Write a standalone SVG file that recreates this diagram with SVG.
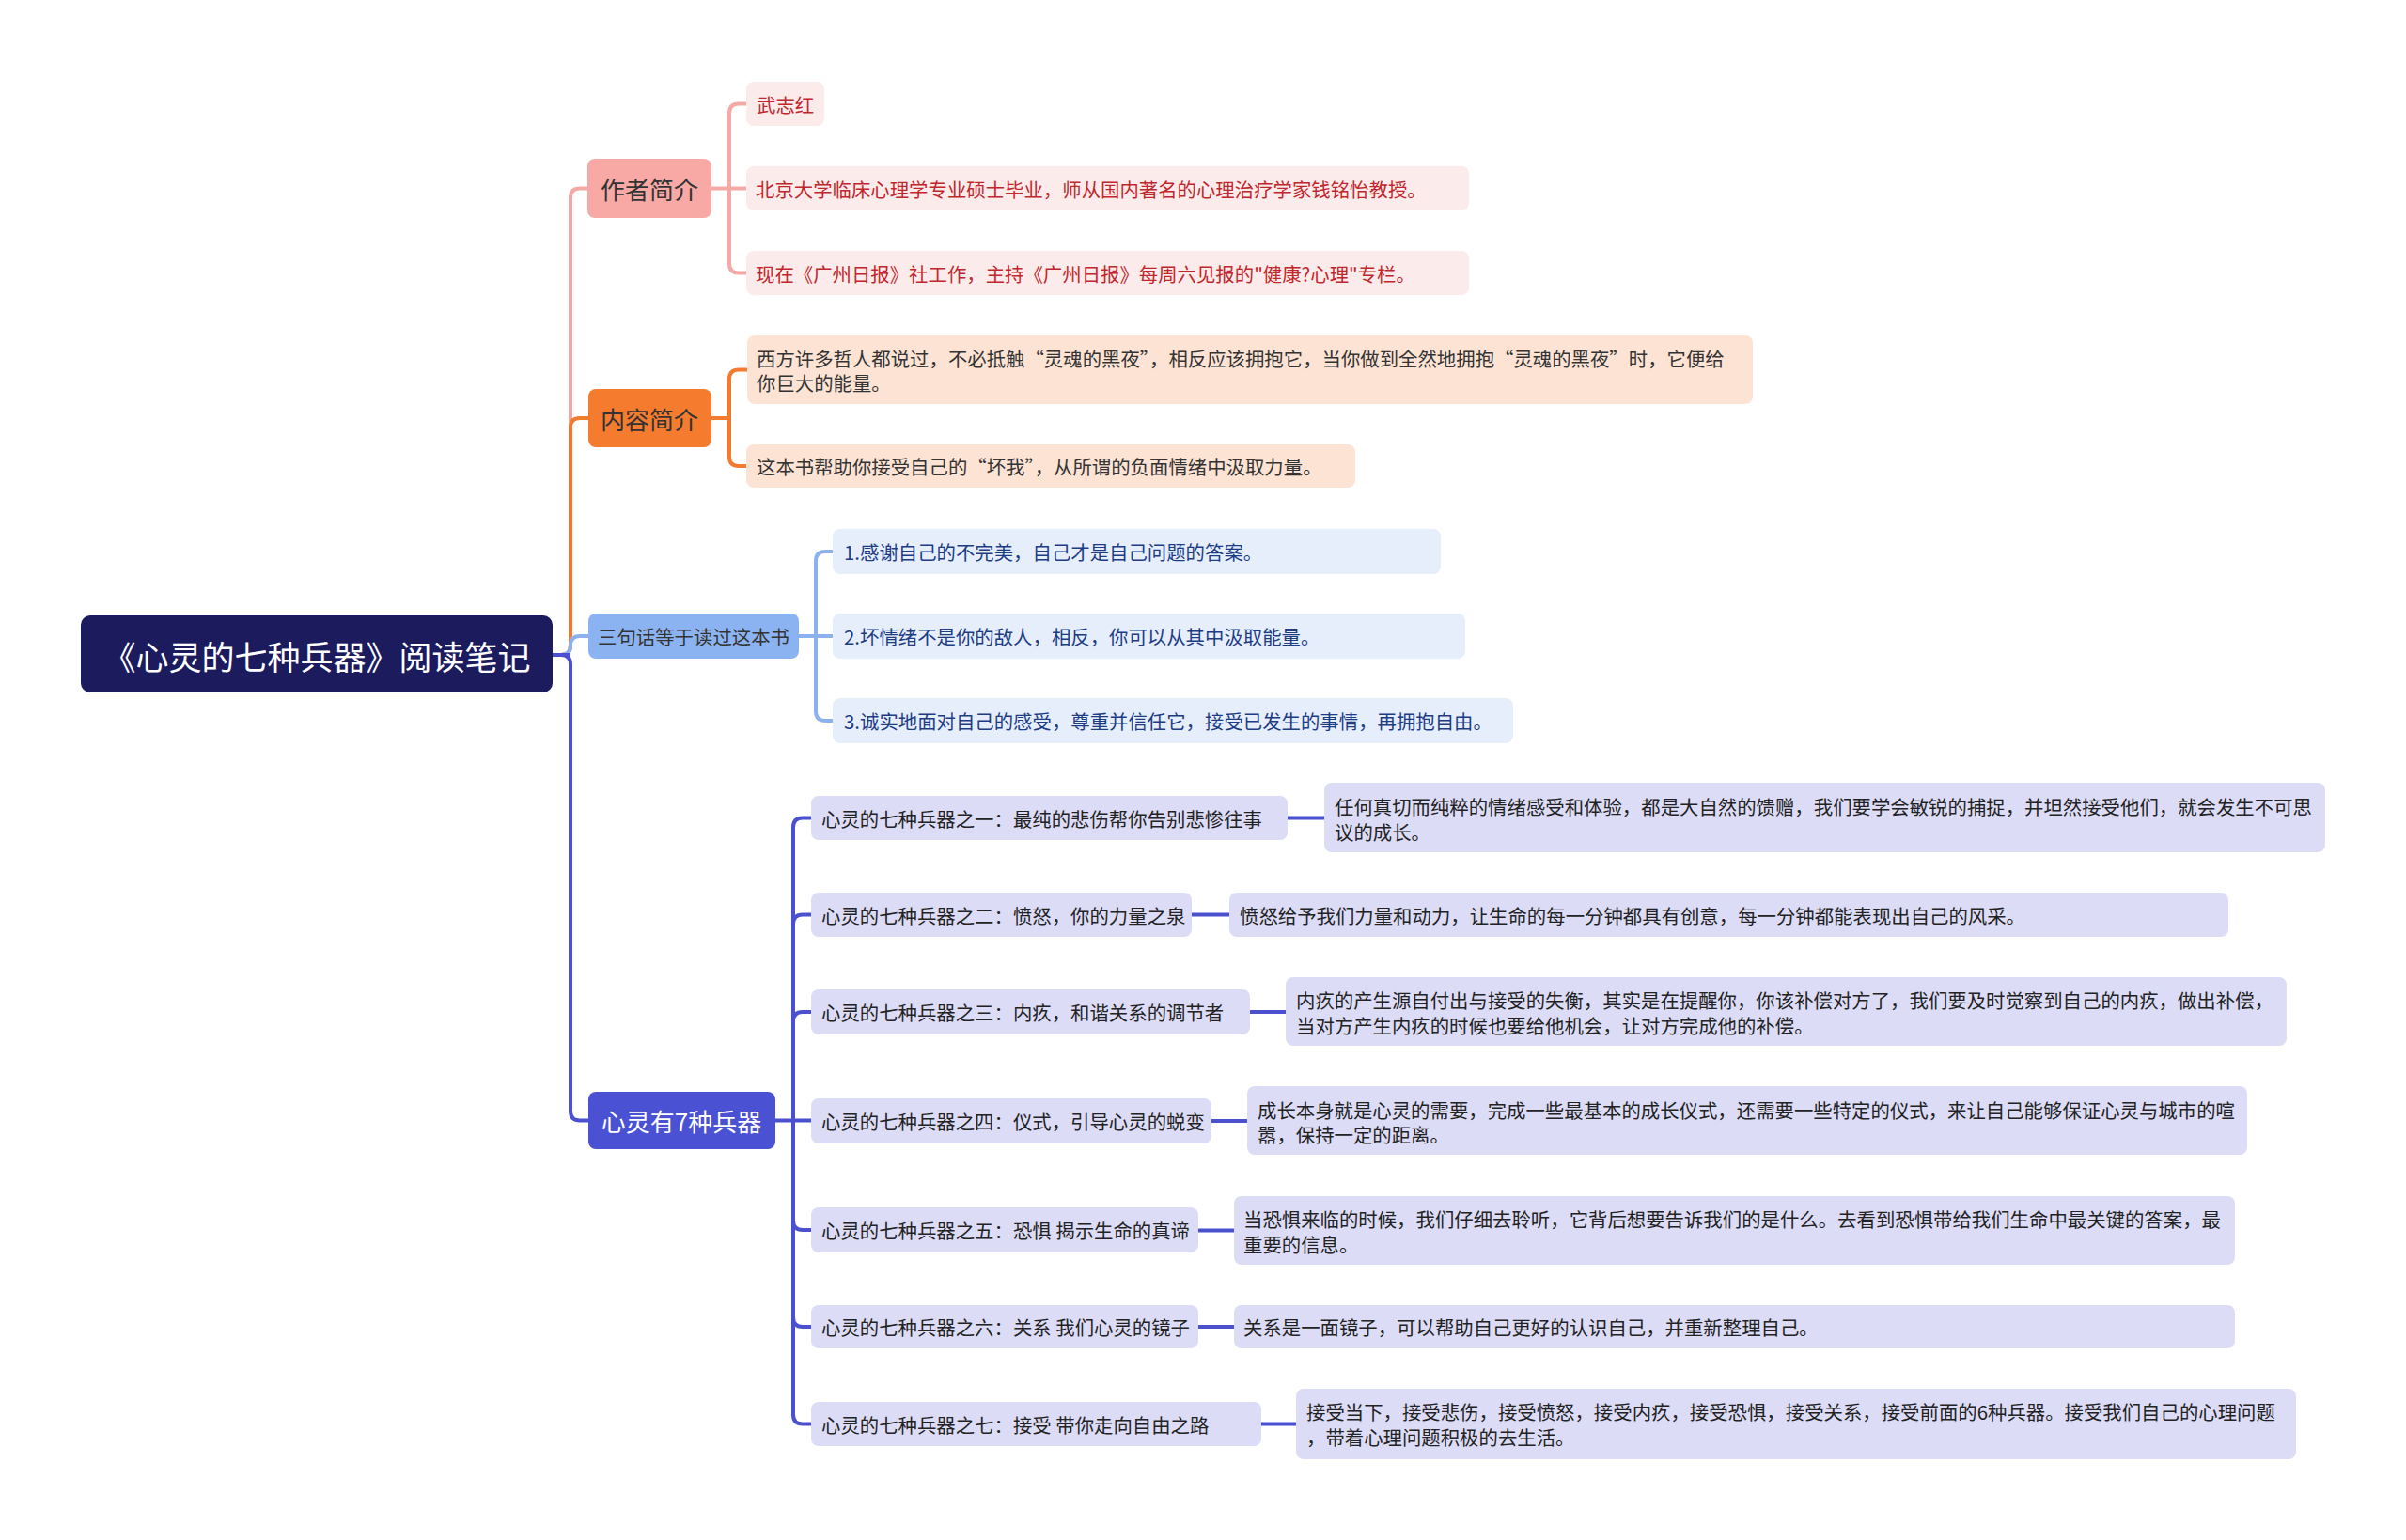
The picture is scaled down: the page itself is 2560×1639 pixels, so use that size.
<svg xmlns="http://www.w3.org/2000/svg" width="2560" height="1639" viewBox="0 0 2560 1639">
<style>
text{font-family:"Noto Sans CJK SC","Noto Sans",sans-serif;dominant-baseline:central}
.t20{font-size:20.4px}
.t26{font-size:26px;text-anchor:middle}
.c{text-anchor:middle}
.ln{fill:none;stroke-width:4;stroke-linecap:butt}
.pink{stroke:#f4a9a7}.orange{stroke:#f27b30}.lblue{stroke:#8bb2ef}.blue{stroke:#4b50cf}
.fa{fill:#fcebeb}.fc{fill:#fde3d4}.fs{fill:#e6eefc}.fw{fill:#dcdcf7}
.ta{fill:#c0272d}.tc{fill:#333}.ts{fill:#1c3c84}.tw{fill:#222}
</style>
<rect width="2560" height="1639" fill="#fff"/>
<g id="connectors">
<path class="ln pink" d="M588,697 H597 Q607,697 607,687 V210.5 Q607,200.5 617,200.5 H626"/>
<path class="ln orange" d="M588,697 H597 Q607,697 607,687 V455 Q607,445 617,445 H626"/>
<path class="ln lblue" d="M588,697 H597 Q607,697 607,687 Q607,677 617,677 H626"/>
<path class="ln blue" d="M588,697 H597 Q607,697 607,707 V1182.5 Q607,1192.5 617,1192.5 H626"/>
<path class="ln blue" d="M588,697 H607" stroke-width="5"/>
<path class="ln pink" d="M757,200.5 H794"/>
<path class="ln pink" d="M776,200.5 V120.5 Q776,110.5 786,110.5 H794"/>
<path class="ln pink" d="M776,200.5 V280.5 Q776,290.5 786,290.5 H794"/>
<path class="ln orange" d="M757,445 H776"/>
<path class="ln orange" d="M776,445 V403.5 Q776,393.5 786,393.5 H795"/>
<path class="ln orange" d="M776,445 V486 Q776,496 786,496 H794"/>
<path class="ln lblue" d="M850,677 H886"/>
<path class="ln lblue" d="M868,677 V597 Q868,587 878,587 H886"/>
<path class="ln lblue" d="M868,677 V757 Q868,767 878,767 H886"/>
<path class="ln blue" d="M825,1192.5 H863"/>
<path class="ln blue" d="M844,1192.5 V880.5 Q844,870.5 854,870.5 H863"/>
<path class="ln blue" d="M844,1192.5 V983.5 Q844,973.5 854,973.5 H863"/>
<path class="ln blue" d="M844,1192.5 V1087 Q844,1077 854,1077 H863"/>
<path class="ln blue" d="M844,1192.5 V1299 Q844,1309 854,1309 H863"/>
<path class="ln blue" d="M844,1192.5 V1402 Q844,1412 854,1412 H863"/>
<path class="ln blue" d="M844,1192.5 V1505.5 Q844,1515.5 854,1515.5 H863"/>
<path class="ln blue" stroke-width="5" d="M1370,870.5 H1409"/>
<path class="ln blue" stroke-width="5" d="M1268,973.5 H1308"/>
<path class="ln blue" stroke-width="5" d="M1330,1077 H1368"/>
<path class="ln blue" stroke-width="5" d="M1289,1193 H1327"/>
<path class="ln blue" stroke-width="5" d="M1275,1309.5 H1313"/>
<path class="ln blue" stroke-width="5" d="M1275,1412 H1313"/>
<path class="ln blue" stroke-width="5" d="M1342,1515.5 H1379"/>
</g>
<g id="root">
<rect x="86" y="655" width="502" height="82" rx="10" fill="#1b1b5d"/>
<text x="337" y="697" class="c" font-size="35" fill="#fff">《心灵的七种兵器》阅读笔记</text>
</g>
<g id="n-author">
<rect x="625" y="169" width="132" height="63" rx="8" fill="#f8a9a5"/>
<text x="691" y="200.5" class="t26" fill="#333">作者简介</text>
</g>
<g id="n-author-1">
<rect x="794" y="87" width="83" height="47" rx="8" class="fa"/>
<text x="805" y="110.5" class="t20 ta">武志红</text>
</g>
<g id="n-author-2">
<rect x="794" y="177" width="769" height="47" rx="8" class="fa"/>
<text x="804" y="200.5" class="t20 ta">北京大学临床心理学专业硕士毕业，师从国内著名的心理治疗学家钱铭怡教授。</text>
</g>
<g id="n-author-3">
<rect x="794" y="267" width="769" height="47" rx="8" class="fa"/>
<text x="804" y="290.5" class="t20 ta">现在《广州日报》社工作，主持《广州日报》每周六见报的"健康?心理"专栏。</text>
</g>
<g id="n-content">
<rect x="626" y="414" width="131" height="62" rx="8" fill="#f57b2f"/>
<text x="691" y="445" class="t26" fill="#333">内容简介</text>
</g>
<g id="n-content-1">
<rect x="795" y="357" width="1070" height="73" rx="8" class="fc"/>
<text x="805" y="381" class="t20 tc">西方许多哲人都说过，不必抵触“灵魂的黑夜”，相反应该拥抱它，当你做到全然地拥抱“灵魂的黑夜”时，它便给</text>
<text x="805" y="407" class="t20 tc">你巨大的能量。</text>
</g>
<g id="n-content-2">
<rect x="794" y="473" width="648" height="46" rx="8" class="fc"/>
<text x="805" y="496" class="t20 tc">这本书帮助你接受自己的“坏我”，从所谓的负面情绪中汲取力量。</text>
</g>
<g id="n-sentences">
<rect x="626" y="653" width="224" height="48" rx="8" fill="#8cb3f1"/>
<text x="738" y="677" class="t20 c" fill="#333">三句话等于读过这本书</text>
</g>
<g id="n-sentence-1">
<rect x="886" y="563" width="647" height="48" rx="8" class="fs"/>
<text x="898" y="587" class="t20 ts">1.感谢自己的不完美，自己才是自己问题的答案。</text>
</g>
<g id="n-sentence-2">
<rect x="886" y="653" width="673" height="48" rx="8" class="fs"/>
<text x="898" y="677" class="t20 ts">2.坏情绪不是你的敌人，相反，你可以从其中汲取能量。</text>
</g>
<g id="n-sentence-3">
<rect x="886" y="743" width="724" height="48" rx="8" class="fs"/>
<text x="898" y="767" class="t20 ts">3.诚实地面对自己的感受，尊重并信任它，接受已发生的事情，再拥抱自由。</text>
</g>
<g id="n-weapons">
<rect x="626" y="1162" width="199" height="61" rx="8" fill="#4b51d3"/>
<text x="725" y="1192.5" class="t26" fill="#fff">心灵有7种兵器</text>
</g>
<g id="n-w1">
<rect x="863" y="847" width="507" height="47" rx="8" class="fw"/>
<text x="874" y="870.5" class="t20 tw">心灵的七种兵器之一：最纯的悲伤帮你告别悲惨往事</text>
</g>
<g id="n-w1-d">
<rect x="1409" y="833" width="1065" height="74" rx="8" class="fw"/>
<text x="1420" y="858" class="t20 tw">任何真切而纯粹的情绪感受和体验，都是大自然的馈赠，我们要学会敏锐的捕捉，并坦然接受他们，就会发生不可思</text>
<text x="1420" y="885" class="t20 tw">议的成长。</text>
</g>
<g id="n-w2">
<rect x="863" y="950" width="405" height="47" rx="8" class="fw"/>
<text x="874" y="973.5" class="t20 tw">心灵的七种兵器之二：愤怒，你的力量之泉</text>
</g>
<g id="n-w2-d">
<rect x="1308" y="950" width="1063" height="47" rx="8" class="fw"/>
<text x="1319" y="973.5" class="t20 tw">愤怒给予我们力量和动力，让生命的每一分钟都具有创意，每一分钟都能表现出自己的风采。</text>
</g>
<g id="n-w3">
<rect x="863" y="1053" width="467" height="48" rx="8" class="fw"/>
<text x="874" y="1077" class="t20 tw">心灵的七种兵器之三：内疚，和谐关系的调节者</text>
</g>
<g id="n-w3-d">
<rect x="1368" y="1040" width="1065" height="73" rx="8" class="fw"/>
<text x="1379" y="1064" class="t20 tw">内疚的产生源自付出与接受的失衡，其实是在提醒你，你该补偿对方了，我们要及时觉察到自己的内疚，做出补偿，</text>
<text x="1379" y="1091" class="t20 tw">当对方产生内疚的时候也要给他机会，让对方完成他的补偿。</text>
</g>
<g id="n-w4">
<rect x="863" y="1169" width="426" height="48" rx="8" class="fw"/>
<text x="874" y="1193" class="t20 tw">心灵的七种兵器之四：仪式，引导心灵的蜕变</text>
</g>
<g id="n-w4-d">
<rect x="1327" y="1156" width="1064" height="73" rx="8" class="fw"/>
<text x="1338" y="1181" class="t20 tw">成长本身就是心灵的需要，完成一些最基本的成长仪式，还需要一些特定的仪式，来让自己能够保证心灵与城市的喧</text>
<text x="1338" y="1207" class="t20 tw">嚣，保持一定的距离。</text>
</g>
<g id="n-w5">
<rect x="863" y="1285" width="412" height="48" rx="8" class="fw"/>
<text x="874" y="1309" class="t20 tw">心灵的七种兵器之五：恐惧 揭示生命的真谛</text>
</g>
<g id="n-w5-d">
<rect x="1313" y="1273" width="1065" height="73" rx="8" class="fw"/>
<text x="1323" y="1297" class="t20 tw">当恐惧来临的时候，我们仔细去聆听，它背后想要告诉我们的是什么。去看到恐惧带给我们生命中最关键的答案，最</text>
<text x="1323" y="1324" class="t20 tw">重要的信息。</text>
</g>
<g id="n-w6">
<rect x="863" y="1389" width="412" height="46" rx="8" class="fw"/>
<text x="874" y="1412" class="t20 tw">心灵的七种兵器之六：关系 我们心灵的镜子</text>
</g>
<g id="n-w6-d">
<rect x="1313" y="1389" width="1065" height="46" rx="8" class="fw"/>
<text x="1323" y="1412" class="t20 tw">关系是一面镜子，可以帮助自己更好的认识自己，并重新整理自己。</text>
</g>
<g id="n-w7">
<rect x="863" y="1492" width="479" height="47" rx="8" class="fw"/>
<text x="874" y="1515.5" class="t20 tw">心灵的七种兵器之七：接受 带你走向自由之路</text>
</g>
<g id="n-w7-d">
<rect x="1379" y="1478" width="1064" height="75" rx="8" class="fw"/>
<text x="1390" y="1502" class="t20 tw">接受当下，接受悲伤，接受愤怒，接受内疚，接受恐惧，接受关系，接受前面的6种兵器。接受我们自己的心理问题</text>
<text x="1390" y="1529" class="t20 tw">，带着心理问题积极的去生活。</text>
</g>
</svg>
